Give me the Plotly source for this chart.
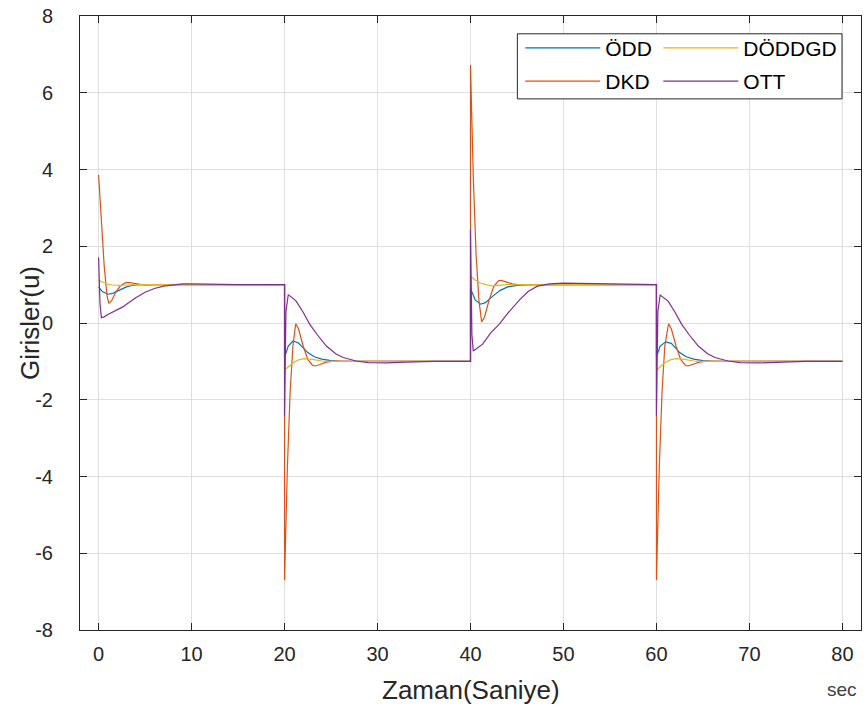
import plotly.graph_objects as go

# ---------------- data ----------------
t_odd = [0, 0.4, 1.0, 1.5, 2.0, 2.5, 3.0, 3.5, 4.0, 5.0, 20,
         20, 20.4, 20.9, 21.5, 22.5, 23.2, 24.0, 25.0, 26.0, 40,
         40, 40.5, 41.1, 41.6, 42.5, 43.2, 44.0, 45.0, 46.0, 60,
         60, 60.4, 61.0, 61.6, 62.5, 63.2, 64.0, 65.0, 66.0, 80]
v_odd = [0.94, 0.82, 0.75, 0.77, 0.83, 0.89, 0.94, 0.97, 0.99, 1.0, 1.0,
         -0.9, -0.6, -0.47, -0.52, -0.77, -0.88, -0.94, -0.98, -1.0, -1.0,
         0.9, 0.6, 0.49, 0.53, 0.72, 0.85, 0.94, 0.98, 1.0, 1.0,
         -0.88, -0.6, -0.49, -0.53, -0.77, -0.88, -0.94, -0.98, -1.0, -1.0]

t_dkd = [0, 0.3, 0.6, 0.9, 1.1, 1.4, 1.8, 2.3, 2.8, 3.15, 3.7, 4.3, 5.0, 6.0, 20,
         20, 20.3, 20.6, 20.9, 21.2, 21.5, 22.0, 22.5, 23.0, 23.3, 23.8, 24.5, 25.5, 27.0, 40,
         40, 40.3, 40.6, 40.9, 41.2, 41.5, 42.0, 42.5, 43.0, 43.3, 43.8, 44.5, 45.5, 47.0, 60,
         60, 60.3, 60.6, 60.9, 61.3, 61.6, 62.1, 62.6, 63.1, 63.4, 63.9, 64.6, 65.6, 67.0, 80]
v_dkd = [3.86, 2.7, 1.5, 0.72, 0.51, 0.58, 0.78, 0.96, 1.04, 1.06, 1.04, 1.01, 0.99, 1.0, 1.0,
         -6.7, -3.8, -1.8, -0.6, -0.02, -0.15, -0.6, -0.95, -1.1, -1.12, -1.08, -1.02, -0.99, -1.0, -1.0,
         6.72, 3.8, 1.8, 0.6, 0.03, 0.15, 0.6, 0.95, 1.1, 1.11, 1.08, 1.02, 0.99, 1.0, 1.0,
         -6.7, -3.8, -1.8, -0.6, -0.02, -0.15, -0.6, -0.95, -1.1, -1.12, -1.08, -1.02, -0.99, -1.0, -1.0]

t_doddgd = [0, 0.5, 1.0, 1.5, 2.2, 3.0, 4.0, 20,
            20, 20.5, 21.0, 21.5, 22.1, 23.0, 24.0, 25.0, 40,
            40, 40.5, 41.0, 41.6, 42.3, 43.0, 44.0, 60,
            60, 60.5, 61.0, 61.5, 62.1, 63.0, 64.0, 65.0, 80]
v_doddgd = [1.11, 1.05, 1.01, 0.99, 0.98, 0.99, 1.0, 1.0,
            -1.23, -1.12, -1.02, -0.96, -0.93, -0.95, -0.99, -1.0, -1.0,
            1.22, 1.12, 1.05, 1.0, 0.97, 0.98, 1.0, 1.0,
            -1.23, -1.12, -1.02, -0.96, -0.93, -0.95, -0.99, -1.0, -1.0]

t_ott = [0, 0.15, 0.3, 0.6, 1.0, 1.5, 2.0, 2.6, 3.3, 4.0, 5.0, 6.0, 7.0, 8.0, 9.0, 10.0, 12.0, 15.0, 20,
         20, 20.15, 20.4, 21.25, 22.0, 22.7, 23.5, 24.5, 25.5, 26.3, 27.7, 29.0, 31.0, 33.0, 36.0, 40,
         40, 40.15, 40.3, 41.3, 42.2, 43.1, 44.0, 45.3, 46.2, 47.2, 48.5, 50.0, 52.0, 55.0, 60,
         60, 60.15, 60.4, 61.25, 62.0, 62.7, 63.5, 64.5, 65.5, 66.3, 67.7, 69.0, 71.0, 73.0, 76.0, 80]
v_ott = [1.71, 0.5, 0.14, 0.16, 0.22, 0.28, 0.34, 0.42, 0.54, 0.66, 0.8, 0.9, 0.96, 1.0, 1.02, 1.02, 1.01, 1.0, 1.0,
         -2.42, 0.3, 0.74, 0.57, 0.28, -0.03, -0.3, -0.6, -0.8, -0.9, -0.99, -1.03, -1.04, -1.02, -1.0, -1.0,
         2.43, -0.3, -0.73, -0.55, -0.25, -0.03, 0.25, 0.61, 0.82, 0.96, 1.02, 1.04, 1.03, 1.01, 1.0,
         -2.42, 0.3, 0.73, 0.57, 0.28, -0.03, -0.3, -0.6, -0.8, -0.9, -0.99, -1.03, -1.04, -1.02, -1.0, -1.0]

x_ticks = [0, 10, 20, 30, 40, 50, 60, 70, 80]
y_ticks = [-8, -6, -4, -2, 0, 2, 4, 6, 8]

# ---------------- figure ----------------
FONT = "Liberation Sans, Arial, sans-serif"
AX = "#262626"
GRID = "#dfdfdf"

series = [
    ("ÖDD", t_odd, v_odd, "#0072BD", "legend"),
    ("DKD", t_dkd, v_dkd, "#D95319", "legend"),
    ("DÖDDGD", t_doddgd, v_doddgd, "#EDB120", "legend2"),
    ("OTT", t_ott, v_ott, "#7E2F8E", "legend2"),
]

fig = go.Figure()
for name, t, v, col, lg in series:
    fig.add_trace(go.Scatter(x=t, y=v, mode="lines", name=name,
                             line=dict(color=col, width=1.2),
                             legend=lg, legendgroup=name))

leg_common = dict(
    orientation="v", yanchor="top", xanchor="left",
    bgcolor="rgba(0,0,0,0)", borderwidth=0,
    font=dict(size=21, color="#000000", family=FONT),
    itemwidth=75, tracegroupgap=3,
)

fig.update_layout(
    width=867, height=714,
    margin=dict(l=80, r=5, t=14, b=84),
    paper_bgcolor="white", plot_bgcolor="white",
    font=dict(family=FONT, size=20, color=AX),
    showlegend=True,
    legend=dict(x=0.5637, y=0.981, **leg_common),
    legend2=dict(x=0.7405, y=0.981, **leg_common),
    xaxis=dict(
        range=[-2, 82], tickvals=x_ticks, ticktext=[str(v) for v in x_ticks],
        showgrid=True, gridcolor=GRID, gridwidth=1, zeroline=False,
        showline=True, linecolor=AX, linewidth=1, mirror="ticks",
        ticks="inside", ticklen=7, tickcolor=AX,
        tickfont=dict(size=20, color=AX), ticklabelstandoff=6,
    ),
    yaxis=dict(
        range=[-8, 8], tickvals=y_ticks, ticktext=[str(v) for v in y_ticks],
        showgrid=True, gridcolor=GRID, gridwidth=1, zeroline=False,
        showline=True, linecolor=AX, linewidth=1, mirror="ticks",
        ticks="inside", ticklen=7, tickcolor=AX,
        tickfont=dict(size=20, color=AX), ticklabelstandoff=22,
    ),
)

# legend frame (white box with dark border, under the legend entries)
fig.add_shape(type="rect", xref="paper", yref="paper",
              x0=0.560, x1=0.9757, y0=0.865, y1=0.971,
              line=dict(color=AX, width=1), fillcolor="white", layer="above")

# axis titles and unit label
fig.add_annotation(text="Zaman(Saniye)", x=0.5, xref="paper", y=-0.0974, yref="paper",
                   showarrow=False, xanchor="center", yanchor="middle",
                   font=dict(size=26, color=AX, family=FONT))
fig.add_annotation(text="Girisler(u)", x=-0.0639, xref="paper", y=0.5, yref="paper",
                   showarrow=False, xanchor="center", yanchor="middle", textangle=-90,
                   font=dict(size=26, color=AX, family=FONT))
fig.add_annotation(text="sec", x=80, xref="x", y=-0.0974, yref="paper",
                   showarrow=False, xanchor="center", yanchor="middle",
                   font=dict(size=19, color="#404040", family=FONT))

fig.write_html("out.html")
